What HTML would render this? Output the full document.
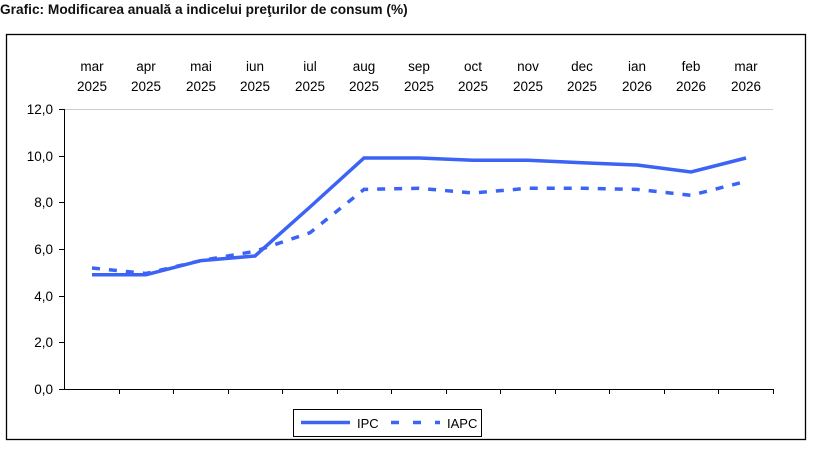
<!DOCTYPE html><html><head><style>body{margin:0;background:#fff;}svg{display:block;font-family:"Liberation Sans",sans-serif;}</style></head><body>
<svg width="813" height="450" xmlns="http://www.w3.org/2000/svg">
<text x="0" y="14" font-size="13.7" font-weight="bold" fill="#111" font-family="Liberation Sans, sans-serif">Grafic: Modificarea anuală a indicelui preţurilor de consum (%)</text>
<rect x="6.5" y="34.5" width="799" height="405" fill="none" stroke="#000" stroke-width="1.3"/>
<line x1="64" y1="109.5" x2="773" y2="109.5" stroke="#ccc"/>
<g stroke="#000" stroke-width="1">
<line x1="64.5" y1="109" x2="64.5" y2="389"/>
<line x1="64" y1="389.5" x2="773" y2="389.5"/>
<line x1="59" y1="109.5" x2="64" y2="109.5"/><line x1="59" y1="156.5" x2="64" y2="156.5"/><line x1="59" y1="202.5" x2="64" y2="202.5"/><line x1="59" y1="249.5" x2="64" y2="249.5"/><line x1="59" y1="296.5" x2="64" y2="296.5"/><line x1="59" y1="342.5" x2="64" y2="342.5"/><line x1="59" y1="389.5" x2="64" y2="389.5"/>
<path d="M119.5 389v5M173.5 389v5M228.5 389v5M282.5 389v5M337.5 389v5M391.5 389v5M446.5 389v5M500.5 389v5M555.5 389v5M609.5 389v5M664.5 389v5M718.5 389v5M773.5 389v5"/>
</g>
<g font-size="13.5" text-anchor="end" fill="#000">
<text x="53" y="114">12,0</text><text x="53" y="161">10,0</text><text x="53" y="207">8,0</text><text x="53" y="254">6,0</text><text x="53" y="301">4,0</text><text x="53" y="347">2,0</text><text x="53" y="394">0,0</text>
</g>
<g font-size="13.5" text-anchor="middle" fill="#000">
<text x="92" y="71">mar</text><text x="92" y="91">2025</text>
<text x="146" y="71">apr</text><text x="146" y="91">2025</text>
<text x="201" y="71">mai</text><text x="201" y="91">2025</text>
<text x="255" y="71">iun</text><text x="255" y="91">2025</text>
<text x="310" y="71">iul</text><text x="310" y="91">2025</text>
<text x="364" y="71">aug</text><text x="364" y="91">2025</text>
<text x="419" y="71">sep</text><text x="419" y="91">2025</text>
<text x="473" y="71">oct</text><text x="473" y="91">2025</text>
<text x="528" y="71">nov</text><text x="528" y="91">2025</text>
<text x="582" y="71">dec</text><text x="582" y="91">2025</text>
<text x="637" y="71">ian</text><text x="637" y="91">2026</text>
<text x="691" y="71">feb</text><text x="691" y="91">2026</text>
<text x="746" y="71">mar</text><text x="746" y="91">2026</text>
</g>
<polyline fill="none" stroke="#3b63f5" stroke-width="3.5" stroke-dasharray="8,9" points="92,268 146,273.5 201,260.6 255,251.3 310,232.7 364,189.4 419,188.3 473,193 528,188.3 582,188.3 637,189.4 691,195.3 746,181.4"/>
<polyline fill="none" stroke="#3b63f5" stroke-width="3.5" points="92,274.7 146,274.7 201,260.6 255,256 310,207 364,158 419,158 473,160.3 528,160.3 582,162.7 637,165 691,172 746,158"/>
<rect x="293.5" y="409.5" width="188" height="27" fill="#fff" stroke="#000"/>
<line x1="301" y1="422.5" x2="350" y2="422.5" stroke="#3b63f5" stroke-width="3.5"/>
<text x="357" y="428" font-size="13">IPC</text>
<line x1="391" y1="422.5" x2="440" y2="422.5" stroke="#3b63f5" stroke-width="3.5" stroke-dasharray="8,14"/>
<text x="447" y="428" font-size="13">IAPC</text>
</svg></body></html>
